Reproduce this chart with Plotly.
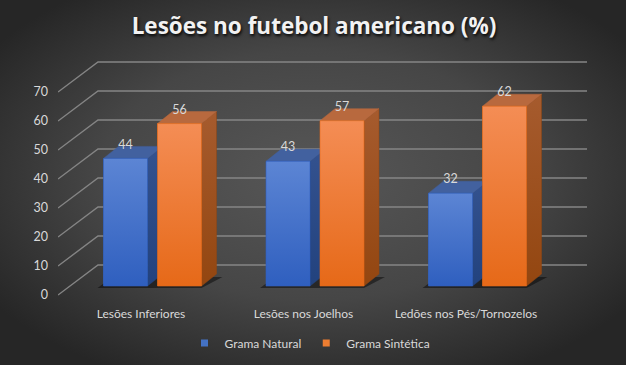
import base64
import plotly.graph_objects as go

# ---------------- data ----------------
title_text = "Lesões no futebol americano (%)"
categories = ["Lesões Inferiores", "Lesões nos Joelhos", "Ledões nos Pés/Tornozelos"]
series_names = ["Grama Natural", "Grama Sintética"]
grama_natural = [44, 43, 32]
grama_sintetica = [56, 57, 62]
y_ticks = [0, 10, 20, 30, 40, 50, 60, 70]

# ---------------- geometry (pseudo 3D) ----------------
W, H = 626, 365
L, T = 58, 55
PLOT_RIGHT, PLOT_BOTTOM = 587, 300
R, B = W - PLOT_RIGHT, H - PLOT_BOTTOM
PX_CAT = 162.5                           # px per category
PX_UNIT = 2.9                            # px per value unit
X_LABEL0 = 141                           # px of first category (front plane)
Y_ZERO = 295                             # px of value 0 at front plane
plot_w = PLOT_RIGHT - L
plot_h = PLOT_BOTTOM - T
x_min = (L - X_LABEL0) / PX_CAT
x_max = (PLOT_RIGHT - X_LABEL0) / PX_CAT
y_min = (Y_ZERO - PLOT_BOTTOM) / PX_UNIT
y_max = (Y_ZERO - T) / PX_UNIT

DXW, DYW = 40 / PX_CAT, 30 / PX_UNIT     # back-wall depth
DXB, DYB = 15 / PX_CAT, 12 / PX_UNIT     # bar depth
BASE = 9 / PX_UNIT                       # bar front base above front plane
BAR_W = 44 / PX_CAT
OFFSETS = [-37.5 / PX_CAT, 16.5 / PX_CAT]
LABEL_DY = 13 / PX_UNIT

FONT = "Lato, Open Sans, sans-serif"
styles = [
    dict(main="#4472c4", front_top="#5c85d4", front_bot="#2f5fbf",
         top="#42619f", side_top="#34528f", side_bot="#22427e"),
    dict(main="#ed7d31", front_top="#f48d55", front_bot="#e66918",
         top="#b8693e", side_top="#a65b2e", side_bot="#934610"),
]
series_vals = [grama_natural, grama_sintetica]

fig = go.Figure()

# base bars (covered by the gradient faces)
for s, (name, vals) in enumerate(zip(series_names, series_vals)):
    fig.add_trace(go.Bar(
        x=list(range(len(categories))), y=vals, base=BASE, width=BAR_W,
        offset=OFFSETS[s], name=name, marker=dict(color=styles[s]["main"], line_width=0),
        showlegend=False, hoverinfo="skip"))

# back wall gridlines + diagonals
gx, gy = [], []
for v in y_ticks:
    gx += [x_min, x_min + DXW, x_max, None]
    gy += [v, v + DYW, v + DYW, None]
fig.add_trace(go.Scatter(x=gx, y=gy, mode="lines", line=dict(color="#858585", width=1.4),
                         showlegend=False, hoverinfo="skip"))

# shadows
for i in range(len(categories)):
    x0 = i + OFFSETS[0] - 6 / PX_CAT
    x1 = i + OFFSETS[1] + BAR_W
    y0 = BASE - 2 / PX_UNIT
    fig.add_trace(go.Scatter(
        x=[x0, x1, x1 + DXB + 6 / PX_CAT, x0 + DXB, x0],
        y=[y0, y0, BASE + DYB - 1, BASE + DYB - 1, y0],
        mode="lines", fill="toself", fillcolor="rgba(0,0,0,0.45)", line=dict(width=0),
        showlegend=False, hoverinfo="skip"))

# 3D faces
for i in range(len(categories)):
    for s, vals in enumerate(series_vals):
        st = styles[s]
        xl = i + OFFSETS[s]
        xr = xl + BAR_W
        top = BASE + vals[i]
        fig.add_trace(go.Scatter(
            x=[xr, xr + DXB, xr + DXB, xr, xr], y=[BASE, BASE + DYB, top + DYB, top, BASE],
            mode="lines", fill="toself", line=dict(width=0.5, color=st["side_bot"]),
            fillgradient=dict(type="vertical", colorscale=[[0, st["side_bot"]], [1, st["side_top"]]]),
            showlegend=False, hoverinfo="skip"))
        fig.add_trace(go.Scatter(
            x=[xl, xr, xr + DXB, xl + DXB, xl], y=[top, top, top + DYB, top + DYB, top],
            mode="lines", fill="toself", fillcolor=st["top"], line=dict(width=0.5, color=st["top"]),
            showlegend=False, hoverinfo="skip"))
        fig.add_trace(go.Scatter(
            x=[xl, xr, xr, xl, xl], y=[BASE, BASE, top, top, BASE],
            mode="lines", fill="toself", line=dict(width=0.6, color=st["front_bot"]),
            fillgradient=dict(type="vertical", colorscale=[[0, st["front_bot"]], [1, st["front_top"]]]),
            showlegend=False, hoverinfo="skip"))

# value labels
for s, vals in enumerate(series_vals):
    fig.add_trace(go.Scatter(
        x=[i + OFFSETS[s] + BAR_W / 2 for i in range(len(vals))],
        y=[BASE + v + LABEL_DY for v in vals],
        mode="text", text=[str(v) for v in vals], textposition="middle center",
        textfont=dict(family=FONT, size=12.5, color="#d9d9d9"),
        showlegend=False, hoverinfo="skip"))

# legend entries (small squares)
for s, name in enumerate(series_names):
    fig.add_trace(go.Scatter(
        x=[None], y=[None], mode="markers", name=name,
        marker=dict(symbol="square", size=7, color=styles[s]["main"]),
        showlegend=True, hoverinfo="skip"))

# radial background
svg = (
    f'<svg xmlns="http://www.w3.org/2000/svg" width="{W}" height="{H}" preserveAspectRatio="none">'
    '<defs><radialGradient id="g" cx="50%" cy="48%" r="62%">'
    '<stop offset="0%" stop-color="#575757"/><stop offset="55%" stop-color="#464646"/>'
    '<stop offset="100%" stop-color="#262626"/></radialGradient></defs>'
    f'<rect width="{W}" height="{H}" fill="url(#g)"/></svg>'
)
src = "data:image/svg+xml;base64," + base64.b64encode(svg.encode()).decode()

fig.update_layout(
    width=W, height=H,
    margin=dict(l=L, r=R, t=T, b=B, autoexpand=False),
    paper_bgcolor="#2e2e2e", plot_bgcolor="rgba(0,0,0,0)",
    barmode="overlay",
    images=[dict(source=src, xref="paper", yref="paper",
                 x=-L / plot_w, y=1 + T / plot_h, sizex=W / plot_w, sizey=H / plot_h,
                 xanchor="left", yanchor="top", sizing="stretch", layer="below")],
    title=dict(text=title_text, x=314 / W, xref="container", xanchor="center",
               y=1 - 26 / H, yanchor="middle",
               font=dict(family="Open Sans, Lato, sans-serif", size=22.5, color="#f2f2f2",
                         weight="bold", shadow="1px 2px 3px rgba(0,0,0,0.9)")),
    font=dict(family=FONT, color="#d9d9d9", size=12),
    xaxis=dict(range=[x_min, x_max], tickvals=list(range(len(categories))), ticktext=categories,
               showgrid=False, zeroline=False, showline=False, ticks="", ticklabelstandoff=5,
               tickfont=dict(size=12, color="#d9d9d9"), fixedrange=True, automargin=False),
    yaxis=dict(range=[y_min, y_max], tickvals=y_ticks, showgrid=False, zeroline=False,
               showline=False, ticks="", ticklabelstandoff=9,
               tickfont=dict(size=12.5, color="#d9d9d9"), fixedrange=True, automargin=False),
    legend=dict(orientation="h", x=(310 - L) / plot_w, xanchor="center",
                y=-(343 - PLOT_BOTTOM) / plot_h, yanchor="middle",
                font=dict(size=12, color="#d9d9d9"), bgcolor="rgba(0,0,0,0)",
                itemwidth=30, traceorder="normal"),
    showlegend=True,
)

fig.write_html(
    "out.html",
    config={"displayModeBar": False, "staticPlot": True},
    post_script=("document.body.style.margin='0px';"
                 "document.body.style.overflow='hidden';"
                 "document.documentElement.style.overflow='hidden';"),
)
